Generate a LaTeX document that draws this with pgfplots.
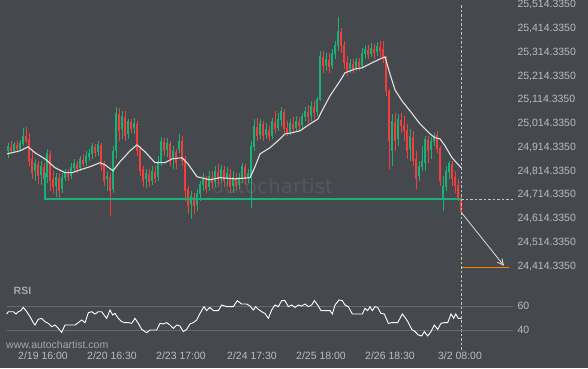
\documentclass[border=0pt]{standalone}
\usepackage{pgfplots}
\pgfplotsset{compat=1.18}
\usepackage{pgfplotstable}
\usepackage{fontspec}
\setmainfont{Liberation Sans}
\newfontfamily\wmfont{DejaVu Sans}
\usetikzlibrary{arrows.meta}
\definecolor{bg}{RGB}{69,72,76}
\definecolor{wm}{RGB}{84,87,91}
\definecolor{cgreen}{RGB}{24,178,118}
\definecolor{cred}{RGB}{244,62,62}
\definecolor{txt}{RGB}{185,188,192}
\definecolor{lbl}{RGB}{165,168,172}
\definecolor{gline}{RGB}{102,105,110}
\definecolor{maline}{RGB}{225,225,225}
\definecolor{dashc}{RGB}{195,197,200}

\pgfplotstableread{
i o h l c
1 24900 24934 24871 24921
2 24917 24942 24892 24900
3 24900 24938 24892 24929
4 24925 24942 24900 24908
5 24908 24946 24900 24934
6 24929 24997 24921 24963
7 24963 25001 24934 24942
8 24950 24976 24837 24858
9 24866 24900 24782 24808
10 24816 24866 24774 24850
11 24845 24858 24761 24795
12 24799 24858 24757 24837
13 24833 24850 24753 24782
14 24791 24908 24766 24892
15 24887 24900 24732 24774
16 24782 24816 24724 24749
17 24753 24808 24707 24791
18 24787 24808 24703 24732
19 24740 24808 24724 24791
20 24787 24824 24774 24808
21 24803 24824 24774 24791
22 24795 24850 24782 24833
23 24829 24866 24816 24850
24 24845 24858 24808 24824
25 24829 24879 24816 24866
26 24862 24887 24833 24845
27 24850 24900 24837 24879
28 24875 24908 24858 24892
29 24887 24934 24866 24921
30 24917 24929 24875 24892
31 24896 24942 24879 24929
32 24925 24934 24816 24837
33 24841 24858 24753 24774
34 24782 24816 24732 24795
35 24791 24808 24627 24732
36 24740 24921 24724 24900
37 24900 25085 24866 25060
38 25055 25081 24942 24984
39 24992 25068 24950 25047
40 25043 25068 24942 24963
41 24971 25034 24950 25026
42 25022 25034 24976 24992
43 24997 25039 24971 25018
44 25013 25026 24879 24900
45 24908 24921 24795 24816
46 24824 24837 24749 24774
47 24782 24824 24745 24808
48 24803 24824 24749 24770
49 24774 24837 24757 24816
50 24812 24837 24766 24782
51 24791 24879 24774 24858
52 24854 24959 24837 24942
53 24938 24955 24879 24900
54 24904 24955 24875 24934
55 24929 24942 24837 24866
56 24871 24921 24824 24900
57 24896 24908 24824 24850
58 24908 24971 24892 24942
59 24942 24963 24837 24858
60 24866 24879 24690 24732
61 24740 24753 24635 24669
62 24677 24732 24614 24711
63 24707 24724 24635 24669
64 24673 24740 24648 24724
65 24719 24774 24690 24761
66 24757 24808 24732 24782
67 24778 24795 24724 24740
68 24749 24816 24732 24795
69 24791 24816 24740 24766
70 24770 24837 24749 24816
71 24812 24845 24753 24782
72 24787 24841 24766 24824
73 24820 24837 24749 24774
74 24782 24833 24753 24808
75 24803 24824 24724 24749
76 24753 24816 24724 24791
77 24787 24808 24732 24753
78 24757 24808 24740 24791
79 24787 24850 24766 24837
80 24833 24845 24757 24782
81 24787 24824 24766 24808
82 24795 24942 24661 24921
83 24917 25034 24900 25005
84 25001 25039 24942 24963
85 24967 25034 24950 25018
86 25013 25026 24942 24963
87 24967 25018 24950 24992
88 24988 25005 24942 24959
89 24963 25039 24950 25026
90 25022 25068 24976 24992
91 24997 25060 24984 25034
92 25030 25085 25005 25068
93 25064 25076 24976 24992
94 24997 25026 24963 24976
95 24980 25034 24967 25018
96 25013 25043 24976 24992
97 24997 25047 24984 25026
98 25022 25043 24984 25005
99 25009 25060 24992 25047
100 25043 25085 25026 25068
101 25064 25093 25018 25043
102 25047 25110 25026 25089
103 25085 25110 25034 25060
104 25064 25127 25047 25118
105 25114 25320 25110 25299
106 25295 25320 25228 25257
107 25261 25312 25236 25286
108 25282 25312 25228 25253
109 25257 25328 25244 25312
110 25307 25362 25286 25345
111 25341 25463 25320 25404
112 25400 25417 25312 25341
113 25345 25362 25244 25270
114 25274 25299 25215 25236
115 25244 25286 25228 25270
116 25265 25286 25228 25244
117 25249 25291 25236 25278
118 25274 25291 25236 25253
119 25257 25333 25244 25312
120 25307 25345 25286 25328
121 25324 25345 25286 25303
122 25307 25354 25295 25333
123 25328 25349 25286 25312
124 25316 25358 25299 25341
125 25337 25362 25295 25320
126 25328 25362 25270 25286
127 25291 25299 25131 25152
128 25152 25160 24824 24942
129 24900 25055 24837 25026
130 25022 25060 24900 24942
131 24950 25055 24921 25034
132 25030 25060 24976 25005
133 25009 25047 24942 24984
134 24988 25013 24866 24900
135 24908 24992 24858 24963
136 24959 24984 24837 24858
137 24866 24900 24740 24782
138 24795 24858 24774 24837
139 24833 24921 24816 24858
140 24850 24963 24816 24950
141 24946 24963 24850 24900
142 24904 24959 24866 24942
143 24938 24976 24921 24963
144 24967 24984 24892 24908
145 24913 24921 24753 24774
146 24698 24795 24648 24753
147 24749 24837 24732 24816
148 24812 24858 24782 24850
149 24845 24858 24753 24782
150 24791 24816 24724 24753
151 24757 24782 24690 24703
152 24703 24711 24635 24644
}\candles

\pgfplotstableread{
i p
152.3 24410
168 24410
}\target

\pgfplotsset{
  chartbase/.style={
    scale only axis, width=515pt, xmin=-1.6667, xmax=170,
    axis line style={draw=none}, tick style={draw=none}, major tick length=0pt,
    tick label style={font=\fontsize{10.5}{12}\selectfont, text=txt},
    yticklabel pos=right, yticklabel style={anchor=west, xshift=-1pt},
    scaled x ticks=false, scaled y ticks=false,
    clip=false,
  },
  candle/.style 2 args={draw=none, mark=none, forget plot,
    error bars/.cd, y dir=plus, y explicit, error mark=none,
    error bar style={draw=#1, solid, line width=#2}},
}

\begin{document}
\begin{tikzpicture}
\fill[bg] (0pt,0pt) rectangle (588pt,-368pt);
\node[anchor=west, text=wm, font=\wmfont\fontsize{20}{24}\selectfont, inner sep=0pt] at (212pt,-186pt) {autochartist};

\begin{axis}[chartbase, at={(0pt,0pt)}, anchor=north west, height=280pt,
  ymin=24356.8, ymax=25534, xtick=\empty,
  ytick={24414.335,24514.335,24614.335,24714.335,24814.335,24914.335,25014.335,25114.335,25214.335,25314.335,25414.335,25514.335},
  yticklabels={{24,414.3350},{24,514.3350},{24,614.3350},{24,714.3350},{24,814.3350},{24,914.3350},{25,014.3350},{25,114.3350},{25,214.3350},{25,314.3350},{25,414.3350},{25,514.3350}},
]
% wicks
\addplot[candle={cgreen}{0.8pt}]
  table[x=i, y expr={\thisrow{c}>\thisrow{o} ? \thisrow{l} : nan}, y error plus expr={\thisrow{h}-\thisrow{l}}] {\candles};
\addplot[candle={cred}{0.8pt}]
  table[x=i, y expr={\thisrow{c}<\thisrow{o} ? \thisrow{l} : nan}, y error plus expr={\thisrow{h}-\thisrow{l}}] {\candles};
% bodies
\addplot[candle={cgreen}{2pt}]
  table[x=i, y expr={\thisrow{c}>\thisrow{o} ? \thisrow{o} : nan}, y error plus expr={\thisrow{c}-\thisrow{o}}] {\candles};
\addplot[candle={cred}{2pt}]
  table[x=i, y expr={\thisrow{c}<\thisrow{o} ? \thisrow{c} : nan}, y error plus expr={\thisrow{o}-\thisrow{c}}] {\candles};
% moving average
\addplot[maline, line width=1.1pt] coordinates {
(0.67,24887) (5,24900) (7.67,24917) (10,24892) (13.33,24866) (16.67,24829) (20,24808) (22.33,24808)
(25,24820) (28.33,24833) (31.67,24850) (33.33,24841) (36,24816) (38.33,24854) (41.67,24900) (44,24925)
(46.67,24896) (50,24850) (53.33,24850) (55.67,24866) (59,24871) (61,24845) (64,24791) (68.33,24778)
(71.67,24787) (76.67,24782) (81.67,24787) (83.33,24833) (85,24887) (88.33,24913) (91.67,24950) (93.33,24971)
(95.67,24976) (98.33,24984) (101.67,25013) (104.33,25034) (105.67,25068) (108.33,25131) (111.67,25194) (113.33,25228)
(116.67,25244) (119,25249) (122.33,25270) (125,25286) (126.67,25295) (128.33,25223) (130,25156) (132.33,25110)
(135,25068) (138.33,25013) (141.67,24971) (143.33,24955) (145,24950) (146.67,24921) (149,24871) (152,24829)
};
% support line
\addplot[cgreen, line width=1.6pt] coordinates {(13.33,24808) (13.33,24697) (152.1,24697)};
\addplot[dashc, line width=0.7pt, dash pattern=on 2.5pt off 2pt] coordinates {(152.1,24697) (169.5,24697)};
% vertical marker
\addplot[dashc, line width=0.7pt, dash pattern=on 2.5pt off 2pt] coordinates {(152.1,25512) (152.1,24063)};
% forecast arrow and target
\addplot[maline, line width=0.8pt, -{Straight Barb[length=6pt,width=6pt]}] coordinates {(152.1,24641) (166.3,24417)};
\addplot[orange, line width=1.4pt] table[x=i, y=p] {\target};
\end{axis}

\begin{axis}[chartbase, at={(0pt,-285pt)}, anchor=north west, height=55pt,
  ymin=31.92, ymax=77.75,
  ytick={40,60}, yticklabels={40,60},
  xtick={12.67,35.67,58.67,82.33,105.33,128.33,151.67},
  xticklabels={{2/19 16:00},{2/20 16:30},{2/23 17:00},{2/24 17:30},{2/25 18:00},{2/26 18:30},{3/2 08:00}},
  xticklabel style={anchor=base, yshift=-19.5pt},
]
\addplot[gline, line width=0.8pt] coordinates {(0.67,60) (169.33,60)};
\addplot[gline, line width=0.8pt] coordinates {(0.67,40) (169.33,40)};
\addplot[white, line width=0.9pt] coordinates {
(0.56,53.6) (1.11,55.5) (2.78,55.5) (3.67,53.6) (4.44,55.5) (5.22,56.4) (6.11,59.1) (7,56.4)
(8.33,51.4) (9.44,46.4) (10,44.4) (11.11,49.2) (12.22,50) (13.33,47.2) (14.44,45.8) (15.56,43)
(16.67,44.4) (17.78,41.6) (18.89,38.3) (20,44.4) (21.67,44.4) (23.33,44.4) (24.44,46.4) (25.56,48.6)
(26.67,46.4) (27.78,54.7) (28.89,55.5) (30,53.6) (31.11,55.5) (32.22,55.5) (33,52.8) (33.89,50)
(35,56.9) (35.89,52.8) (36.67,54.1) (37.78,50) (38.89,47.2) (40,46.4) (41.11,46.4) (42.22,45.8)
(43.33,50) (44.44,45.8) (45.56,40.8) (47.22,38) (48.33,40.3) (50.56,40.3) (51.67,45.8) (52.78,45.3)
(53.89,46.4) (55,44.4) (56.11,41.6) (57.22,44.4) (58.33,43.6) (59.44,38.9) (60.56,40.8) (61.67,45.3)
(62.78,46.4) (63.89,48.6) (65,54.1) (66.33,59.7) (67.22,56.4) (68.33,59.1) (69.44,56.4) (71.11,56.4)
(72.22,61.1) (73.89,59.7) (76.11,59.7) (77.44,64.7) (78.89,61.9) (80.56,61.9) (81.67,60.25) (82.78,56.9)
(83.56,59.7) (84.44,57.5) (85.56,55.5) (86.67,54.1) (87.78,50) (88.89,56.9) (90,61.1) (91.11,59.7)
(92.22,64.7) (93.33,64.7) (94.44,59.7) (95.56,61.1) (96.67,59.1) (97.78,61.1) (98.89,60.25) (100,61.9)
(101.11,59.7) (102.22,61.1) (103.11,64.7) (104.22,61.1) (105.33,56.4) (108.33,56.4) (109.11,53.6) (110,61.1)
(111.33,65.3) (112.44,64.7) (113.33,61.1) (114.44,59.7) (115.78,53.6) (119.11,53.6) (120,58.3) (120.89,56.4)
(121.67,59.7) (122.44,56.4) (123.33,59.7) (124.22,59.1) (125.33,54.1) (126.44,53.6) (127.78,45.8) (128.89,46.4)
(130.89,46.4) (132.44,53.6) (133.56,50) (134.44,46.4) (135.56,40.8) (136.67,38.9) (137.78,36.1) (138.89,35.3)
(139.78,38.9) (140.89,35.3) (142,38.9) (143.11,44.4) (144.22,40.8) (145.33,45.8) (146.44,46.4) (147.56,46.4)
(148.67,53.6) (149.56,50) (150.22,53.6) (151.11,50) (152.22,50)
};
\end{axis}

\node[anchor=west, text=lbl, font=\bfseries\fontsize{10.5}{12}\selectfont, inner sep=0pt] at (13.5pt,-290.7pt) {RSI};
\node[anchor=west, text=lbl, font=\fontsize{10.5}{12}\selectfont, inner sep=0pt] at (6pt,-345pt) {www.autochartist.com};
\pgfresetboundingbox
\path (0pt,0pt) rectangle (588pt,-368pt);
\end{tikzpicture}
\end{document}
